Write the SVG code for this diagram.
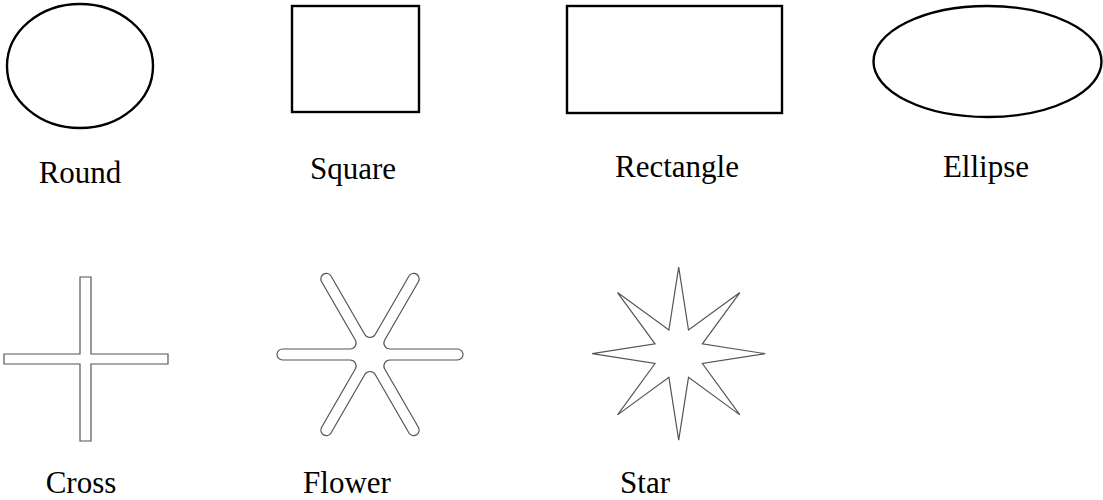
<svg xmlns="http://www.w3.org/2000/svg" width="1103" height="500" viewBox="0 0 1103 500">
<style>
.bold{fill:#fff;stroke:#000;stroke-width:2.4}
.thin{fill:#fff;stroke:#555;stroke-width:1.2}
.lbl{font-family:"Liberation Serif","Times New Roman",serif;font-size:31px;fill:#000;text-anchor:middle}
</style>
<rect width="1103" height="500" fill="#fff"/>
<g id="round"><ellipse class="bold" cx="80" cy="66" rx="73" ry="62"/><text class="lbl" x="80" y="183">Round</text></g>
<g id="square"><rect class="bold" x="292" y="6" width="127" height="106"/><text class="lbl" x="353" y="179">Square</text></g>
<g id="rectangle"><rect class="bold" x="567" y="6" width="215" height="107"/><text class="lbl" x="677" y="177">Rectangle</text></g>
<g id="ellipse"><ellipse class="bold" cx="987.5" cy="61.5" rx="114" ry="55.5"/><text class="lbl" x="986" y="177">Ellipse</text></g>
<g id="cross"><path class="thin" d="M80,277 H91 V354 H168 V364 H91 V441 H80 V364 H4 V354 H80 Z"/><text class="lbl" x="81" y="493">Cross</text></g>
<g id="flower"><path class="thin" d="M389.92,349 L457.5,349 A5.5,5.5 0 0 1 457.5,360 L389.92,360 A6,6 0 0 0 384.72,369 L418.51,427.53 A5.5,5.5 0 0 1 408.99,433.03 L375.2,374.5 A6,6 0 0 0 364.8,374.5 L331.01,433.03 A5.5,5.5 0 0 1 321.49,427.53 L355.28,369 A6,6 0 0 0 350.08,360 L282.5,360 A5.5,5.5 0 0 1 282.5,349 L350.08,349 A6,6 0 0 0 355.28,340 L321.49,281.47 A5.5,5.5 0 0 1 331.01,275.97 L364.8,334.5 A6,6 0 0 0 375.2,334.5 L408.99,275.97 A5.5,5.5 0 0 1 418.51,281.47 L384.72,340 A6,6 0 0 0 389.92,349 Z"/><text class="lbl" x="347" y="493">Flower</text></g>
<g id="star"><polygon class="thin" points="678.7,267.2 688.5,330.05 739.86,292.54 702.35,343.9 765.2,353.7 702.35,363.5 739.86,414.86 688.5,377.35 678.7,440.2 668.9,377.35 617.54,414.86 655.05,363.5 592.2,353.7 655.05,343.9 617.54,292.54 668.9,330.05"/><text class="lbl" x="645" y="493">Star</text></g>
<g id="connectors"/>
</svg>
